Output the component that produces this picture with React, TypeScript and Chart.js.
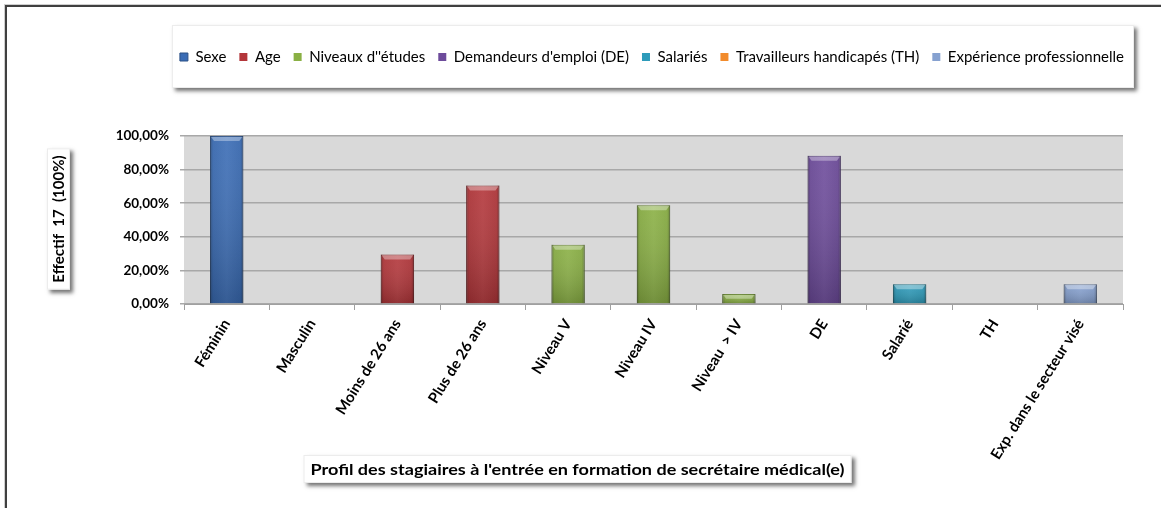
import React, { useEffect, useRef } from 'react';
import { Chart, registerables } from 'chart.js';

Chart.register(...registerables);

// ---------- data ----------
const categories = [
  'Féminin',
  'Masculin',
  'Moins de 26 ans',
  'Plus de 26 ans',
  'Niveau V',
  'Niveau IV',
  'Niveau  > IV',
  'DE',
  'Salarié',
  'TH',
  'Exp. dans le secteur visé',
];

const seriesNames = [
  'Sexe',
  'Age',
  "Niveaux d''études",
  "Demandeurs d'emploi (DE)",
  'Salariés',
  'Travailleurs handicapés (TH)',
  'Expérience professionnelle',
];

const sexeValues = [100, 0, null, null, null, null, null, null, null, null, null];
const ageValues = [null, null, 29.41, 70.59, null, null, null, null, null, null, null];
const etudesValues = [null, null, null, null, 35.29, 58.82, 5.88, null, null, null, null];
const demandeursValues = [null, null, null, null, null, null, null, 88.24, null, null, null];
const salariesValues = [null, null, null, null, null, null, null, null, 11.76, null, null];
const handicapesValues = [null, null, null, null, null, null, null, null, null, 0, null];
const experienceValues = [null, null, null, null, null, null, null, null, null, null, 11.76];

const seriesValues = [
  sexeValues,
  ageValues,
  etudesValues,
  demandeursValues,
  salariesValues,
  handicapesValues,
  experienceValues,
];

const seriesColors = ['#3A6CB5', '#B3363A', '#8AB044', '#6D4B9B', '#2D9BBA', '#F28B2C', '#86A1D0'];
const seriesBorders = ['#2B5086', '#84282B', '#678433', '#503873', '#217389', '#B56921', '#637799'];

const yTicks = [0, 20, 40, 60, 80, 100];

const yTitle = 'Effectif  17  (100%)';
const xTitle = "Profil des stagiaires à l'entrée en formation de secrétaire médical(e)";

// ---------- styling ----------
const FONT = 'Lato, "Open Sans", sans-serif';
const LEGEND_FS = 15;
const LEGEND_PAD = 13;
const TOP_PAD = 57 - LEGEND_PAD - LEGEND_FS / 2;
const LEGEND_H = LEGEND_FS + LEGEND_PAD + 10;
const LEGEND_RIGHT = 1137;
const PLOT_TOP = 136;
const PLOT_BOTTOM = 304;
const PLOT_LEFT = 184;
const PLOT_RIGHT = 1123;
const W = 1161;
const H = 508;

function shadowBox(ctx: CanvasRenderingContext2D, x: number, y: number, w: number, h: number) {
  ctx.save();
  ctx.shadowColor = 'rgba(0,0,0,0.55)';
  ctx.shadowBlur = 4;
  ctx.shadowOffsetX = 3;
  ctx.shadowOffsetY = 3;
  ctx.fillStyle = '#ffffff';
  ctx.fillRect(x, y, w, h);
  ctx.restore();
  ctx.save();
  ctx.strokeStyle = '#ececec';
  ctx.lineWidth = 1;
  ctx.strokeRect(x + 0.5, y + 0.5, w - 1, h - 1);
  ctx.restore();
}

const chromePlugin = {
  id: 'chrome',
  beforeDraw(chart: any) {
    const { ctx, chartArea, width, height } = chart;
    ctx.save();
    ctx.fillStyle = '#ffffff';
    ctx.fillRect(0, 0, width, height);
    // outer frame (cropped chart object border)
    ctx.fillStyle = '#cfcfcf';
    ctx.fillRect(4, 4, 1, height - 4);
    ctx.fillRect(4, 4, width - 4, 1);
    ctx.fillStyle = '#404040';
    ctx.fillRect(5, 5, 2, height - 5);
    ctx.fillRect(5, 5, width - 5, 2);
    // legend frame
    const lg = chart.legend;
    if (lg && lg.legendHitBoxes && lg.legendHitBoxes.length) {
      const hb = lg.legendHitBoxes;
      const first = hb[0];
      const last = hb[hb.length - 1];
      const cy = first.top + first.height / 2;
      const x0 = first.left - 8;
      const x1 = last.left + last.width + 10;
      shadowBox(ctx, x0, cy - 32, x1 - x0, 63);
    }
    // plot area background
    ctx.fillStyle = '#D9D9D9';
    ctx.fillRect(chartArea.left, chartArea.top, chartArea.right - chartArea.left, chartArea.bottom - chartArea.top);
    ctx.restore();
  },
};

const bevelPlugin = {
  id: 'bevel',
  afterDatasetsDraw(chart: any) {
    const { ctx } = chart;
    chart.data.datasets.forEach((ds: any, i: number) => {
      const meta = chart.getDatasetMeta(i);
      if (meta.hidden) return;
      meta.data.forEach((el: any, idx: number) => {
        if (ds.data[idx] == null) return;
        const p = el.getProps(['x', 'y', 'base', 'width'], true);
        const h = p.base - p.y;
        if (!(h > 1)) return;
        const l = p.x - p.width / 2;
        const r = p.x + p.width / 2;
        const t = p.y;
        const b = p.base;
        ctx.save();
        const gv = ctx.createLinearGradient(0, t, 0, b);
        gv.addColorStop(0, 'rgba(255,255,255,0.06)');
        gv.addColorStop(1, 'rgba(0,0,0,0.2)');
        ctx.fillStyle = gv;
        ctx.fillRect(l, t, r - l, h);
        const gh = ctx.createLinearGradient(l, 0, r, 0);
        gh.addColorStop(0, 'rgba(0,0,0,0.28)');
        gh.addColorStop(0.09, 'rgba(0,0,0,0.04)');
        gh.addColorStop(0.5, 'rgba(255,255,255,0.04)');
        gh.addColorStop(0.91, 'rgba(0,0,0,0.04)');
        gh.addColorStop(1, 'rgba(0,0,0,0.28)');
        ctx.fillStyle = gh;
        ctx.fillRect(l, t, r - l, h);
        const bv = Math.min(5, h / 2);
        ctx.beginPath();
        ctx.moveTo(l + 1, t + 1);
        ctx.lineTo(r - 1, t + 1);
        ctx.lineTo(r - 4, t + bv);
        ctx.lineTo(l + 4, t + bv);
        ctx.closePath();
        ctx.fillStyle = 'rgba(255,255,255,0.35)';
        ctx.fill();
        ctx.restore();
      });
    });
  },
};

const axisTitlePlugin = {
  id: 'axisTitles',
  afterDraw(chart: any) {
    const { ctx, chartArea, width } = chart;
    ctx.save();
    ctx.fillStyle = '#000000';
    ctx.textAlign = 'center';
    ctx.textBaseline = 'middle';
    // y title
    ctx.font = `bold 15px ${FONT}`;
    const tw = ctx.measureText(yTitle).width;
    const cx = 58;
    const cy = (chartArea.top + chartArea.bottom) / 2 - 1;
    shadowBox(ctx, cx - 11, cy - tw / 2 - 7, 23, tw + 14);
    ctx.save();
    ctx.translate(cx + 1, cy);
    ctx.rotate(-Math.PI / 2);
    ctx.fillStyle = '#000000';
    ctx.fillText(yTitle, 0, 0);
    ctx.restore();
    // x title
    ctx.font = `bold 15px ${FONT}`;
    const xw = ctx.measureText(xTitle).width;
    const target = 534;
    const sx = target / xw;
    const xc = width / 2 - 3;
    const yc = 469;
    shadowBox(ctx, xc - target / 2 - 7, yc - 14, target + 14, 28);
    ctx.save();
    ctx.translate(xc, yc + 1);
    ctx.scale(sx, 1);
    ctx.fillStyle = '#000000';
    ctx.fillText(xTitle, 0, 0);
    ctx.restore();
    ctx.restore();
  },
};

function fmtPct(v: number) {
  return v.toFixed(2).replace('.', ',') + '%';
}

export default function App() {
  const ref = useRef<HTMLCanvasElement>(null);
  useEffect(() => {
    const canvas = ref.current;
    if (!canvas) return;
    const chart = new Chart(canvas, {
      type: 'bar',
      data: {
        labels: categories,
        datasets: seriesNames.map((name, i) => ({
          label: name,
          data: seriesValues[i],
          backgroundColor: seriesColors[i],
          borderColor: seriesBorders[i],
          borderWidth: (c: any) => (c.raw ? 1 : 0),
          grouped: false,
          barPercentage: 0.39,
          categoryPercentage: 1,
        })),
      },
      options: {
        responsive: false,
        animation: false,
        devicePixelRatio: 1,
        layout: { padding: { top: TOP_PAD, right: W - LEGEND_RIGHT, bottom: 0, left: 0 } },
        plugins: {
          legend: {
            display: true,
            position: 'top',
            fullSize: true,
            align: 'end',
            weight: 1000,
            labels: {
              boxWidth: 8,
              boxHeight: 8,
              padding: LEGEND_PAD,
              color: '#000000',
              font: { family: FONT, size: LEGEND_FS },
            },
          },
          title: {
            display: true,
            text: ' ',
            position: 'top',
            weight: 500,
            font: { size: 10 },
            padding: { top: 0, bottom: PLOT_TOP - TOP_PAD - LEGEND_H - 12 },
          },
          tooltip: { enabled: false },
        },
        scales: {
          x: {
            offset: true,
            grid: {
              display: true,
              offset: true,
              drawOnChartArea: false,
              drawTicks: true,
              tickLength: 6,
              color: '#A0A0A0',
            },
            border: { display: true, color: '#A0A0A0', width: 1 },
            ticks: {
              autoSkip: false,
              maxRotation: 58,
              minRotation: 58,
              color: '#000000',
              padding: 6,
              font: { family: FONT, size: 15, weight: 'bold' },
            },
            afterFit: (s: any) => {
              s.height = H - PLOT_BOTTOM;
              s.paddingRight = W - PLOT_RIGHT;
            },
          },
          y: {
            min: 0,
            max: 100,
            afterBuildTicks: (s: any) => {
              s.ticks = yTicks.map((v) => ({ value: v }));
            },
            ticks: {
              color: '#000000',
              padding: 11,
              font: { family: FONT, size: 13.5, weight: 'bold' },
              callback: (v: any) => fmtPct(Number(v)),
            },
            grid: { color: '#A8A8A8', lineWidth: 1.5, tickLength: 4 },
            border: { display: false },
            afterFit: (s: any) => {
              s.width = PLOT_LEFT;
            },
          },
        },
      },
      plugins: [chromePlugin, bevelPlugin, axisTitlePlugin],
    } as any);
    return () => chart.destroy();
  }, []);
  return (
    <div style={{ position: 'absolute', left: 0, top: 0, width: W, height: H }}>
      <canvas ref={ref} width={W} height={H} style={{ display: 'block', width: W, height: H }} />
    </div>
  );
}
